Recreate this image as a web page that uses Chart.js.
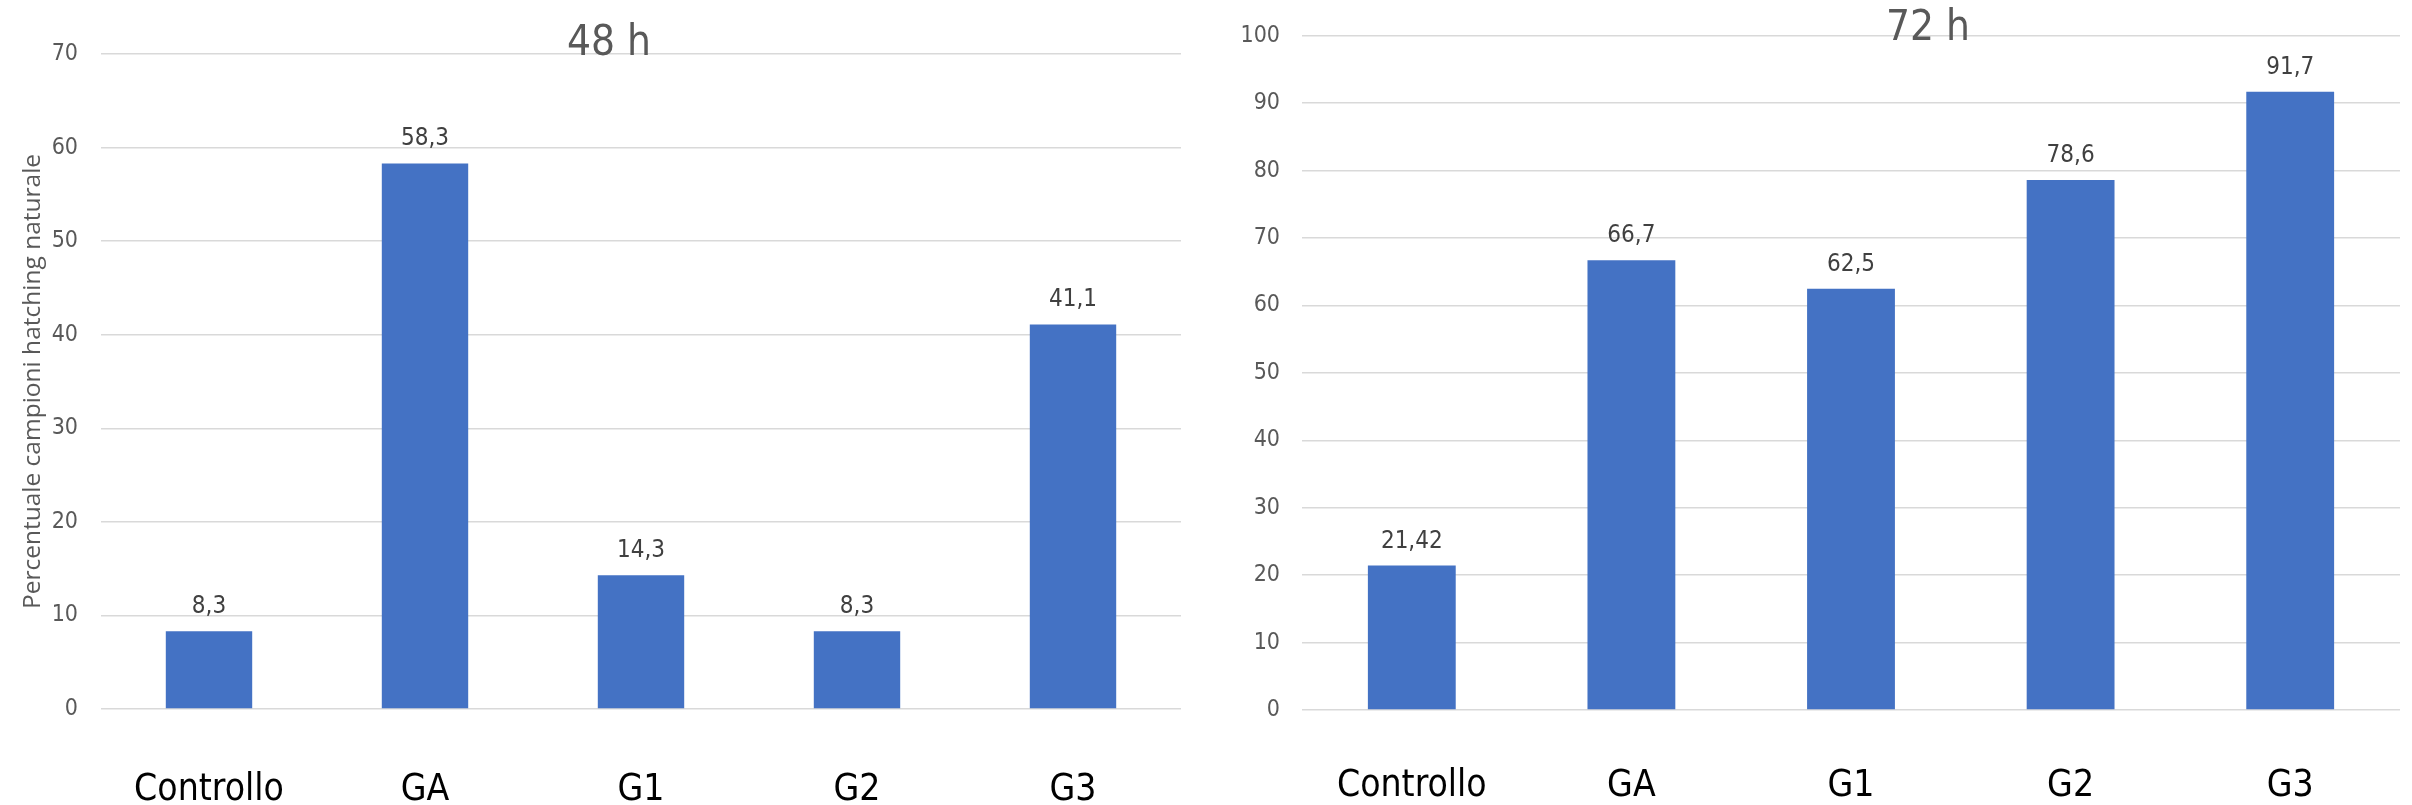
<!DOCTYPE html>
<html>
<head>
<meta charset="utf-8">
<script src="https://cdn.jsdelivr.net/npm/chart.js@4"></script>
<style>
html, body { margin: 0; padding: 0; background: #fff; }
#wrap { position: relative; width: 2412px; height: 805px; }
canvas { position: absolute; top: 0; }
</style>
</head>
<body>
<div id="wrap">
  <canvas id="c48" width="1206" height="805" style="left:0"></canvas>
  <canvas id="c72" width="1206" height="805" style="left:1206px"></canvas>
</div>
<script>
// dati
const gruppi = ["Controllo", "GA", "G1", "G2", "G3"];
const valori48 = [8.3, 58.3, 14.3, 8.3, 41.1];
const valori72 = [21.42, 66.7, 62.5, 78.6, 91.7];
const titolo48 = "48 h";
const titolo72 = "72 h";
const titoloAsseY = "Percentuale campioni hatching naturale";

const FONT = "'Liberation Sans Narrow', 'DejaVu Sans Condensed', sans-serif";
const BLU = "#4472C4";

// titolo sovrapposto al grafico (come in Excel)
const titoloPlugin = {
  id: "titolo",
  afterDraw(chart, args, opts) {
    const ctx = chart.ctx;
    ctx.save();
    ctx.font = "42px " + FONT;
    ctx.fillStyle = "#595959";
    ctx.textAlign = "center";
    ctx.textBaseline = "alphabetic";
    ctx.fillText(opts.text, opts.x, opts.y);
    ctx.restore();
  }
};

// etichette dei valori sopra le barre
const etichettePlugin = {
  id: "etichette",
  afterDatasetsDraw(chart) {
    const ctx = chart.ctx;
    const meta = chart.getDatasetMeta(0);
    const dati = chart.data.datasets[0].data;
    ctx.save();
    ctx.font = "24px " + FONT;
    ctx.fillStyle = "#404040";
    ctx.textAlign = "center";
    ctx.textBaseline = "alphabetic";
    meta.data.forEach((bar, i) => {
      ctx.fillText(String(dati[i]).replace(".", ","), bar.x, bar.y - 18);
    });
    ctx.restore();
  }
};

function creaGrafico(id, valori, maxY, cfg) {
  return new Chart(document.getElementById(id), {
    type: "bar",
    data: {
      labels: gruppi,
      datasets: [{
        data: valori,
        backgroundColor: BLU,
        barPercentage: 0.4,
        categoryPercentage: 1
      }]
    },
    options: {
      responsive: false,
      animation: false,
      events: [],
      layout: { padding: { top: cfg.top, right: cfg.right, left: 0, bottom: 0 } },
      plugins: {
        legend: { display: false },
        tooltip: { enabled: false },
        titolo: { text: cfg.titolo, x: cfg.titoloX, y: cfg.titoloY }
      },
      scales: {
        x: {
          grid: { display: false },
          border: { display: false },
          ticks: { color: "#000", font: { family: FONT, size: 37 }, padding: cfg.xPad },
          afterFit: s => { s.height = cfg.altezzaX; }
        },
        y: {
          min: 0,
          max: maxY,
          ticks: { stepSize: 10, color: "#595959", font: { family: FONT, size: 23 }, padding: cfg.tickPad },
          grid: { color: "#D9D9D9", lineWidth: 1.5, drawTicks: false },
          border: { display: false },
          title: {
            display: !!cfg.titoloY2,
            text: cfg.titoloY2 || "",
            color: "#595959",
            font: { family: "'Open Sans', sans-serif", size: 24.5 },
            padding: { top: 18, bottom: 0 }
          },
          afterFit: s => { s.width = cfg.larghezzaY; }
        }
      }
    },
    plugins: [titoloPlugin, etichettePlugin]
  });
}

creaGrafico("c48", valori48, 70, {
  top: 54, right: 25, altezzaX: 96, larghezzaY: 101, tickPad: 23, xPad: 51,
  titolo: titolo48, titoloX: 609, titoloY: 55, titoloY2: titoloAsseY
});

creaGrafico("c72", valori72, 100, {
  top: 22, right: 12, altezzaX: 95, larghezzaY: 96, tickPad: 22, xPad: 46,
  titolo: titolo72, titoloX: 722, titoloY: 40
});
</script>
</body>
</html>
